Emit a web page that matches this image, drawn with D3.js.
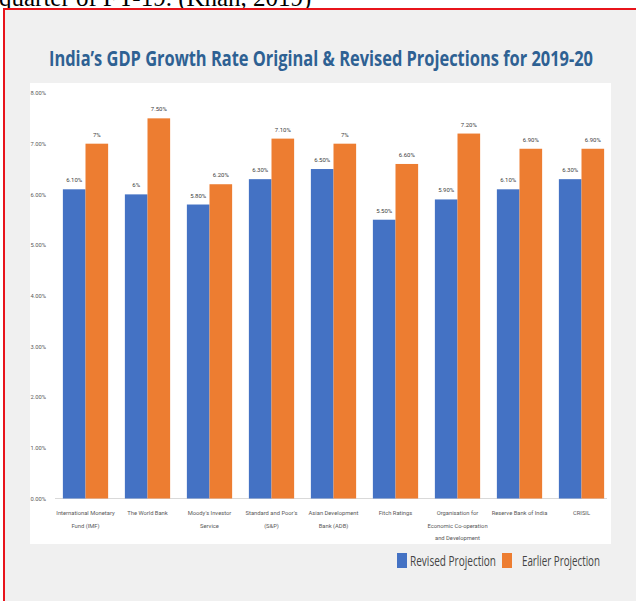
<!DOCTYPE html>
<html>
<head>
<meta charset="utf-8">
<script src="https://cdn.jsdelivr.net/npm/d3@7"></script>
<style>
  body { margin: 0; background: #fff; }
  svg { display: block; }
</style>
</head>
<body>
<div id="chart"></div>
<script>
// chart data
const agencies = [
  ['International Monetary', 'Fund (IMF)'],
  ['The World Bank'],
  ["Moody's Investor", 'Service'],
  ["Standard and Poor's", '(S&P)'],
  ['Asian Development', 'Bank (ADB)'],
  ['Fitch Ratings'],
  ['Organisation for', 'Economic Co-operation', 'and Development'],
  ['Reserve Bank of India'],
  ['CRISIL'],
]
const revised = [6.1, 6.0, 5.8, 6.3, 6.5, 5.5, 5.9, 6.1, 6.3]
const earlier = [7.0, 7.5, 6.2, 7.1, 7.0, 6.6, 7.2, 6.9, 6.9]
const revisedLabels = ['6.10%', '6%', '5.80%', '6.30%', '6.50%', '5.50%', '5.90%', '6.10%', '6.30%']
const earlierLabels = ['7%', '7.50%', '6.20%', '7.10%', '7%', '6.60%', '7.20%', '6.90%', '6.90%']
const yTicks = [0, 1, 2, 3, 4, 5, 6, 7, 8]
const seriesNames = ['Revised Projection', 'Earlier Projection']

const colors = ['#4472c4', '#ed7d31']
const W = 636, H = 601

const svg = d3.select('#chart').append('svg')
  .attr('width', W).attr('height', H)

// cut-off line of the surrounding document
svg.append('text')
  .attr('x', -1).attr('y', 6)
  .style('font-family', '"Liberation Serif", "Times New Roman", serif')
  .style('font-size', '25px')
  .attr('fill', '#000')
  .text('quarter of FY-19. (Khan, 2019)')

// red frame with grey panel
svg.append('rect')
  .attr('x', 4).attr('y', 9).attr('width', W + 10).attr('height', H)
  .attr('fill', '#f0f0f0').attr('stroke', '#e8141b').attr('stroke-width', 2)

// white plot card
svg.append('rect')
  .attr('x', 30).attr('y', 83).attr('width', 581).attr('height', 461)
  .attr('fill', '#fff')

// title
svg.append('text')
  .attr('x', 321).attr('y', 66)
  .attr('text-anchor', 'middle')
  .attr('textLength', 544).attr('lengthAdjust', 'spacingAndGlyphs')
  .style('font-family', '"Open Sans", sans-serif')
  .style('font-weight', 700)
  .style('font-size', '21px')
  .attr('fill', '#2e6193')
  .text("India\u2019s GDP Growth Rate Original & Revised Projections for 2019-20")

// scales
const x = d3.scaleBand()
  .domain(d3.range(agencies.length))
  .range([54.5, 612.5])
  .paddingInner(0.27)
  .paddingOuter(0.135)

const x1 = d3.scaleBand()
  .domain([0, 1])
  .range([0, x.bandwidth()])

const y = d3.scaleLinear().domain([0, 8]).range([498.5, 93])

const small = '"Roboto", "Liberation Sans", sans-serif'

// y axis labels
svg.append('g')
  .attr('transform', 'translate(46,0)')
  .call(d3.axisLeft(y).tickValues(yTicks).tickSize(0).tickPadding(0)
    .tickFormat(d => d3.format('.2f')(d) + '%'))
  .call(g => g.select('.domain').remove())
  .call(g => g.selectAll('text')
    .attr('fill', '#595959')
    .style('font-family', small)
    .style('font-size', '5.8px'))

// baseline
svg.append('line')
  .attr('x1', 55).attr('x2', 607)
  .attr('y1', y(0)).attr('y2', y(0))
  .attr('stroke', '#d9d9d9').attr('stroke-width', 1)

// bars
const series = [revised, earlier]
const seriesLabels = [revisedLabels, earlierLabels]
const groups = svg.append('g').selectAll('g')
  .data(agencies)
  .join('g')
  .attr('transform', (d, i) => `translate(${x(i)},0)`)

series.forEach((vals, s) => {
  groups.append('rect')
    .attr('x', x1(s))
    .attr('y', (d, i) => y(vals[i]))
    .attr('width', x1.bandwidth())
    .attr('height', (d, i) => y(0) - y(vals[i]))
    .attr('fill', colors[s])

  groups.append('text')
    .attr('x', x1(s) + x1.bandwidth() / 2)
    .attr('y', (d, i) => y(vals[i]) - 7)
    .attr('text-anchor', 'middle')
    .attr('fill', '#404040')
    .style('font-family', small)
    .style('font-size', '6px')
    .text((d, i) => seriesLabels[s][i])
})

// category labels (multi-line)
groups.append('text')
  .attr('text-anchor', 'middle')
  .attr('fill', '#595959')
  .style('font-family', small)
  .style('font-size', '5.8px')
  .selectAll('tspan')
  .data(d => d)
  .join('tspan')
  .attr('x', x.bandwidth() / 2)
  .attr('y', (d, i) => 515 + i * 12.5)
  .text(d => d)

// legend
const legend = svg.append('g').attr('transform', 'translate(397,553)')
const legendX = [0, 105]
const legendTextW = [86, 78]
seriesNames.forEach((name, i) => {
  legend.append('rect')
    .attr('x', legendX[i]).attr('y', 0)
    .attr('width', 10).attr('height', 15)
    .attr('fill', colors[i])
  legend.append('text')
    .attr('x', legendX[i] + (i === 0 ? 13 : 20)).attr('y', 13)
    .attr('textLength', legendTextW[i]).attr('lengthAdjust', 'spacingAndGlyphs')
    .style('font-family', '"Open Sans", sans-serif')
    .style('font-size', '14px')
    .attr('fill', '#444')
    .text(name)
})
</script>
</body>
</html>
